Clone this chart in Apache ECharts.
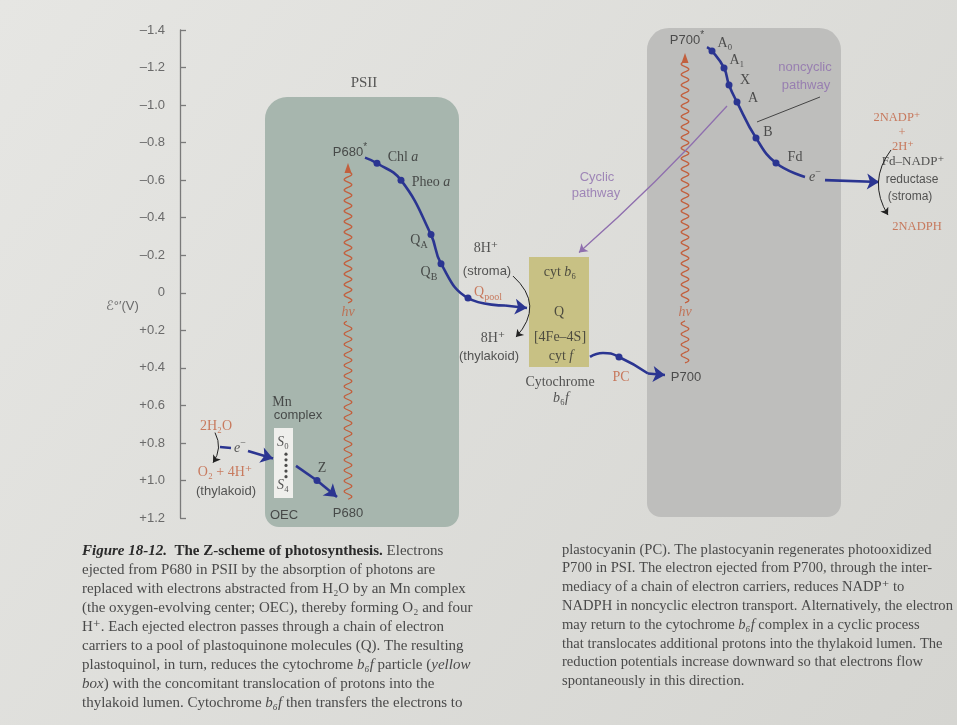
<!DOCTYPE html>
<html><head><meta charset="utf-8">
<script src="https://cdn.jsdelivr.net/npm/echarts@6/dist/echarts.min.js"></script>
<style>html,body{margin:0;padding:0;background:#dededa}#c{width:957px;height:725px}</style>
</head><body><div id="c"></div><script>
// ---------- data ----------
// reduction potential axis (V), drawn inverted (negative at top)
const eMin = -1.4, eMax = 1.2, eStep = 0.2;

// PSII electron carriers: diagram position along the chain and E°' (V)
const psiiNames = ['P680*', 'Chl a', 'Pheo a', 'QA', 'QB', 'Qpool', '', 'cyt b6f'];
const psiiPos   = [365, 377, 401, 431, 441, 468, 505, 527];
const psiiE     = [-0.72, -0.69, -0.60, -0.31, -0.155, 0.028, 0.068, 0.081];
const psiiDot   = [0, 1, 1, 1, 1, 1, 0, 0];

// PSI electron carriers
const psiNames = ['P700*', 'A0', 'A1', 'X', 'A', 'B', 'Fd', 'e-'];
const psiPos   = [707, 712, 724, 729, 737, 756, 776, 805];
const psiE     = [-1.309, -1.288, -1.198, -1.107, -1.016, -0.825, -0.691, -0.617];
const psiDot   = [0, 1, 1, 1, 1, 1, 1, 0];

// cyt f -> PC -> P700
const pcPos = [590, 603, 619, 648, 665];
const pcE   = [0.342, 0.321, 0.342, 0.43, 0.438];
const pcDot = [0, 0, 1, 0, 0];

// OEC (Z) -> P680
const zPos = [296, 317, 337];
const zE   = [0.922, 1.000, 1.088];
const zDot = [0, 1, 0];

// boxes: [left, right, E top, E bottom]
const psiiBox = [265, 459, -1.043, 1.248];
const psiBox  = [647, 841, -1.411, 1.195];
const cytBox  = [529, 589, -0.191, 0.395];
const mnBox   = [274, 293, 0.720, 1.093];

// photon excitations (hv): [x, E bottom, E tip, gap low, gap high]
const photons = [[348, 1.10, -0.691, 0.150, 0.054], [685, 0.374, -1.277, 0.150, 0.054]];

// ---------- helpers ----------
const BLUE = '#2b3591', RED = '#c2603e', PURPLE = '#8f6fae', INK = '#2e2e2e';
const SERIF = '"Liberation Serif","DejaVu Serif",serif';
const SANS = '"Liberation Sans","DejaVu Sans",sans-serif';

function chainData(pos, E, dot, n) {
  const out = [];
  for (let i = 0; i < n; i++) out.push({value: [pos[i], E[i]], symbol: dot[i] ? 'circle' : 'none'});
  return out;
}
function chainLine(pos, E, dot, arrow, smooth) {
  const n = arrow ? pos.length - 1 : pos.length;
  return {type: 'line', data: chainData(pos, E, dot, n), smooth: smooth, symbolSize: 7,
    lineStyle: {color: BLUE, width: 2.6}, itemStyle: {color: BLUE}, z: 5, silent: true, animation: false};
}
function arrowSeg(pos, E) {
  const k = pos.length;
  return {coords: [[pos[k - 2], E[k - 2]], [pos[k - 1], E[k - 1]]]};
}

// annotations: [x, E, text, style]
const notes = [
  [364, -1.118, 'PSII', 'title'],
  [742, -1.491, 'PSI', 'title'],
  [350, -0.750, 'P680{sup|*}', 'sans'],
  [403, -0.723, 'Chl {i|a}', 'serif'],
  [431, -0.590, 'Pheo {i|a}', 'serif'],
  [419, -0.281, 'Q{sub|A}', 'serif'],
  [429, -0.111, 'Q{sub|B}', 'serif'],
  [488, -0.004, 'Q{sub|pool}', 'red'],
  [486, -0.235, '8H⁺', 'serif'],
  [487, -0.116, '(stroma)', 'sans'],
  [493, 0.241, '8H⁺', 'serif'],
  [489, 0.337, '(thylakoid)', 'sans'],
  [560, -0.111, 'cyt {i|b}₆', 'serif'],
  [559, 0.102, 'Q', 'serif'],
  [560, 0.236, '[4Fe–4S]', 'serif'],
  [561, 0.337, 'cyt {i|f}', 'serif'],
  [560, 0.475, 'Cytochrome', 'serif'],
  [561, 0.561, '{i|b}₆{i|f}', 'serif'],
  [621, 0.449, 'PC', 'redplain'],
  [686, 0.449, 'P700', 'sans'],
  [348, 0.102, 'hν', 'hv'],
  [685, 0.102, 'hν', 'hv'],
  [687, -1.347, 'P700{sup|*}', 'sans'],
  [725, -1.331, 'A₀', 'serif'],
  [737, -1.240, 'A₁', 'serif'],
  [745, -1.134, 'X', 'serif'],
  [753, -1.038, 'A', 'serif'],
  [768, -0.857, 'B', 'serif'],
  [795, -0.723, 'Fd', 'serif'],
  [815, -0.617, '{i|e}{sup|−}', 'serif'],
  [805, -1.198, 'noncyclic', 'purple'],
  [806, -1.107, 'pathway', 'purple'],
  [597, -0.617, 'Cyclic', 'purple'],
  [596, -0.531, 'pathway', 'purple'],
  [897, -0.931, '2NADP⁺', 'nadp'],
  [902, -0.851, '+', 'nadp'],
  [903, -0.777, '2H⁺', 'nadp'],
  [913, -0.697, 'Fd–NADP⁺', 'small'],
  [912, -0.601, 'reductase', 'smallsans'],
  [910, -0.510, '(stroma)', 'smallsans'],
  [917, -0.350, '2NADPH', 'nadp'],
  [282, 0.582, 'Mn', 'serif'],
  [298, 0.651, 'complex', 'sans'],
  [283, 0.795, '{i|S}₀', 'serif'],
  [283, 1.025, '{i|S}₄', 'serif'],
  [284, 1.184, 'OEC', 'sans'],
  [348, 1.173, 'P680', 'sans'],
  [322, 0.934, 'Z', 'serif'],
  [216, 0.712, '2H₂O', 'redplain'],
  [225, 0.955, 'O₂ + 4H⁺', 'redplain'],
  [226, 1.056, '(thylakoid)', 'sans'],
  [240, 0.827, '{i|e}{sup|−}', 'serif']
];
const noteStyles = {
  title: {fontFamily: SERIF, fontSize: 15, color: '#333'},
  serif: {fontFamily: SERIF, fontSize: 14, color: INK},
  sans: {fontFamily: SANS, fontSize: 13, color: INK},
  red: {fontFamily: SERIF, fontSize: 14, color: RED},
  redplain: {fontFamily: SERIF, fontSize: 14, color: RED},
  nadp: {fontFamily: SERIF, fontSize: 12.5, color: RED},
  hv: {fontFamily: SERIF, fontSize: 14, color: RED, fontStyle: 'italic'},
  purple: {fontFamily: SANS, fontSize: 13, color: PURPLE},
  small: {fontFamily: SERIF, fontSize: 13, color: INK},
  smallsans: {fontFamily: SANS, fontSize: 12, color: INK}
};

// ---------- chart ----------
const chart = echarts.init(document.getElementById('c'), null, {renderer: 'canvas'});

function boxRender(fill, r) {
  return function (params, api) {
    const a = api.coord([api.value(0), api.value(2)]);
    const b = api.coord([api.value(1), api.value(3)]);
    return {type: 'rect', shape: {x: a[0], y: a[1], width: b[0] - a[0], height: b[1] - a[1], r: r},
      style: {fill: fill}};
  };
}
function photonRender(params, api) {
  const x = api.value(0);
  const pb = api.coord([x, api.value(1)]);
  const pt = api.coord([x, api.value(2)]);
  const g1 = api.coord([x, api.value(3)]);
  const g2 = api.coord([x, api.value(4)]);
  const amp = 3.8, period = 10.5;
  function seg(y0, y1) {
    const pts = [];
    for (let y = y0; y >= y1; y -= 0.5) pts.push([pb[0] + amp * Math.sin((y0 - y) / period * 2 * Math.PI), y]);
    return pts;
  }
  const st = {stroke: RED, lineWidth: 1.3, fill: null};
  return {type: 'group', children: [
    {type: 'polyline', shape: {points: seg(pb[1], g1[1])}, style: st},
    {type: 'polyline', shape: {points: seg(g2[1], pt[1] + 8)}, style: st},
    {type: 'polygon', shape: {points: [[pb[0], pt[1]], [pb[0] - 3.5, pt[1] + 10], [pb[0] + 3.5, pt[1] + 10]]},
      style: {fill: RED}}
  ]};
}

const fmtTick = v => {
  const r = Math.round(v * 10) / 10;
  if (Math.abs(r) < 1e-9) return '0';
  return (r < 0 ? '–' : '+') + Math.abs(r).toFixed(1);
};

function captionLines(x, y0, dy, lines, size) {
  const rich = {
    b: {fontFamily: SERIF, fontSize: size, fontWeight: 'bold', fill: '#2a2a2a'},
    bi: {fontFamily: SERIF, fontSize: size, fontWeight: 'bold', fontStyle: 'italic', fill: '#2a2a2a'},
    i: {fontFamily: SERIF, fontSize: size, fontStyle: 'italic', fill: '#4a4a4a'},
    n: {fontFamily: SERIF, fontSize: size, fill: '#4a4a4a'}
  };
  return lines.map((t, k) => ({
    type: 'text', left: x, top: y0 + k * dy - size * 0.6, silent: true,
    style: {text: t, rich: rich, fontFamily: SERIF, fontSize: size, fill: '#4a4a4a'}
  }));
}
const leftCaption = [
  '{bi|Figure 18-12.}  {b|The Z-scheme of photosynthesis.} Electrons',
  'ejected from P680 in PSII by the absorption of photons are',
  'replaced with electrons abstracted from H₂O by an Mn complex',
  '(the oxygen-evolving center; OEC), thereby forming O₂ and four',
  'H⁺. Each ejected electron passes through a chain of electron',
  'carriers to a pool of plastoquinone molecules (Q). The resulting',
  'plastoquinol, in turn, reduces the cytochrome {i|b₆f} particle ({i|yellow}',
  '{i|box}) with the concomitant translocation of protons into the',
  'thylakoid lumen. Cytochrome {i|b₆f} then transfers the electrons to'
];
const rightCaption = [
  'plastocyanin (PC). The plastocyanin regenerates photooxidized',
  'P700 in PSI. The electron ejected from P700, through the inter-',
  'mediacy of a chain of electron carriers, reduces NADP⁺ to',
  'NADPH in noncyclic electron transport. Alternatively, the electron',
  'may return to the cytochrome {i|b₆f} complex in a cyclic process',
  'that translocates additional protons into the thylakoid lumen. The',
  'reduction potentials increase downward so that electrons flow',
  'spontaneously in this direction.'
];

const option = {
  animation: false,
  backgroundColor: new echarts.graphic.LinearGradient(0, 0, 1, 1, [
    {offset: 0, color: '#e6e6e3'}, {offset: 1, color: '#d5d5d1'}]),
  grid: {left: 180, right: 0, top: 30, bottom: 207, containLabel: false},
  xAxis: {type: 'value', min: 180, max: 957, show: false},
  yAxis: {
    type: 'value', inverse: true, min: eMin, max: eMax, interval: eStep,
    axisLine: {show: true, lineStyle: {color: '#7a7a7a', width: 1.3}},
    axisTick: {show: true, inside: true, length: 6, lineStyle: {color: '#7a7a7a', width: 1.3}},
    axisLabel: {formatter: fmtTick, color: '#6a6a6a', fontFamily: SANS, fontSize: 13, margin: 15},
    splitLine: {show: false}
  },
  graphic: [
    {type: 'text', left: 106, top: 300, silent: true,
      style: {text: 'ℰ°′(V)', fontFamily: SANS, fontSize: 13, fill: '#6a6a6a'}}
  ].concat(captionLines(82, 553, 19, leftCaption, 15))
   .concat(captionLines(562, 551, 18.8, rightCaption, 14.6)),
  series: [
    {type: 'custom', renderItem: boxRender('#a7b6ae', [22, 22, 14, 14]), data: [psiiBox], z: 1, silent: true,
      encode: {x: [0, 1], y: [2, 3]}},
    {type: 'custom', renderItem: boxRender('#bebebc', [22, 22, 14, 14]), data: [psiBox], z: 1, silent: true,
      encode: {x: [0, 1], y: [2, 3]}},
    {type: 'custom', renderItem: boxRender('#c8c184', 0), data: [cytBox], z: 2, silent: true,
      encode: {x: [0, 1], y: [2, 3]}},
    {type: 'custom', renderItem: boxRender('#efefec', 0), data: [mnBox], z: 2, silent: true,
      encode: {x: [0, 1], y: [2, 3]}},
    {type: 'custom', renderItem: photonRender, data: photons, z: 3, silent: true,
      encode: {x: 0, y: [1, 2]}},
    chainLine(psiiPos, psiiE, psiiDot, true, 0.45),
    chainLine(psiPos, psiE, psiDot, false, 0.45),
    chainLine(pcPos, pcE, pcDot, true, 0.5),
    chainLine(zPos, zE, zDot, true, false),
    // blue arrow heads and straight electron transfers
    {type: 'lines', coordinateSystem: 'cartesian2d', z: 6, silent: true,
      symbol: ['none', 'arrow'], symbolSize: 12,
      lineStyle: {color: BLUE, width: 2.6, opacity: 1},
      data: [arrowSeg(psiiPos, psiiE), arrowSeg(pcPos, pcE), arrowSeg(zPos, zE),
        {coords: [[825, -0.600], [879, -0.590]]},
        {coords: [[248, 0.843], [273, 0.883]]}]},
    {type: 'lines', coordinateSystem: 'cartesian2d', z: 6, silent: true, symbol: ['none', 'none'],
      lineStyle: {color: BLUE, width: 2.6, opacity: 1},
      data: [{coords: [[220, 0.822], [231, 0.827]]}]},
    // cyclic pathway
    {type: 'lines', coordinateSystem: 'cartesian2d', z: 6, silent: true,
      symbol: ['none', 'arrow'], symbolSize: 8,
      lineStyle: {color: PURPLE, width: 1.3, opacity: 1, curveness: 0.03},
      data: [{coords: [[727, -0.995], [579, -0.215]]}]},
    // pointer for noncyclic pathway
    {type: 'lines', coordinateSystem: 'cartesian2d', z: 6, silent: true, symbol: ['none', 'none'],
      lineStyle: {color: '#444', width: 1, opacity: 1},
      data: [{coords: [[820, -1.043], [757, -0.910]]}]},
    // thin black reaction arrows
    {type: 'lines', coordinateSystem: 'cartesian2d', z: 6, silent: true,
      symbol: ['none', 'arrow'], symbolSize: 7,
      lineStyle: {color: '#222', width: 1, opacity: 1},
      data: [
        {coords: [[513, -0.089], [516, 0.236]], lineStyle: {curveness: 0.5}},
        {coords: [[891, -0.761], [888, -0.414]], lineStyle: {curveness: -0.34}},
        {coords: [[215, 0.745], [213, 0.905]], lineStyle: {curveness: 0.3}}
      ]},
    // OEC S-state dots
    {type: 'scatter', z: 6, silent: true, symbolSize: 3.2, itemStyle: {color: '#222'},
      data: [[286, 0.860], [286, 0.890], [286, 0.920], [286, 0.950], [286, 0.980]]},
    // annotations
    {type: 'scatter', z: 8, silent: true, symbol: 'circle', symbolSize: 1,
      itemStyle: {color: 'rgba(0,0,0,0)'},
      label: {show: true, position: 'inside', align: 'center', verticalAlign: 'middle', lineHeight: 20,
        rich: {
          sub: {fontSize: 10, lineHeight: 10, verticalAlign: 'bottom'},
          sup: {fontSize: 10, lineHeight: 10, verticalAlign: 'top'},
          i: {fontStyle: 'italic'}
        }},
      data: notes.map(n => ({value: [n[0], n[1]],
        label: Object.assign({formatter: n[2]}, noteStyles[n[3]])}))}
  ]
};
chart.setOption(option);
</script></body></html>
